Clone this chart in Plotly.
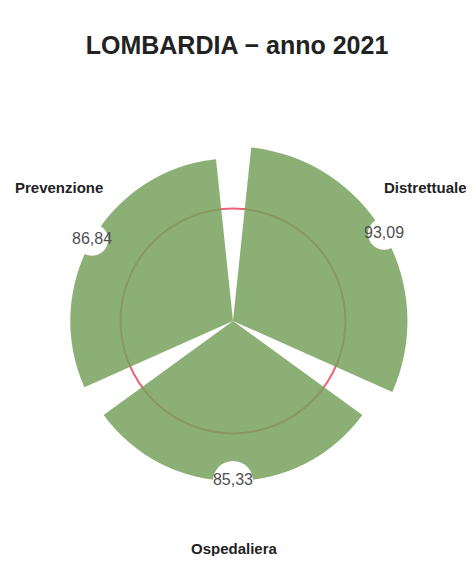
import plotly.graph_objects as go

categories = ["Distrettuale", "Ospedaliera", "Prevenzione"]
values = [93.09, 85.33, 86.84]
angles = [30, 270, 150]
threshold = 60
title_text = "LOMBARDIA \u2212 anno 2021"

OFF = 8  # default page body margin
W, H = 474 - 2 * OFF, 564 - 2 * OFF
cx, cy = 233 - OFF, 321 - OFF
R = 178
rmax = 95

fig = go.Figure()
fig.add_trace(go.Barpolar(
    r=values, theta=angles, width=[108] * 3,
    marker=dict(color="#77A15C", line=dict(width=0)),
    opacity=0.85, hoverinfo="skip", showlegend=False,
))
fig.add_trace(go.Scatterpolar(
    r=values, theta=angles, mode="markers+text",
    marker=dict(color="white", size=[32, 40, 32], opacity=1, line=dict(width=0)),
    texttemplate="%{r:.2f}", textposition="middle center",
    textfont=dict(family="Liberation Sans, Arial", size=16, color="#505050"),
    hoverinfo="skip", showlegend=False, cliponaxis=False,
))

fig.update_layout(
    width=W, height=H, margin=dict(l=0, r=0, t=0, b=0),
    paper_bgcolor="white", separators=",.",
    title=dict(text="<b>" + title_text + "</b>", x=0.5, xanchor="center",
               y=1 - (45 - OFF) / H, yanchor="middle", yref="container",
               font=dict(family="Liberation Sans, Arial", size=25, color="#222")),
    polar=dict(
        domain=dict(x=[(cx - R) / W, (cx + R) / W], y=[(H - cy - R) / H, (H - cy + R) / H]),
        bgcolor="white",
        radialaxis=dict(range=[0, rmax], tickvals=[threshold], showgrid=True,
                        gridcolor="#F0607A", gridwidth=1.5, showticklabels=False,
                        showline=False, ticks=""),
        angularaxis=dict(rotation=0, direction="counterclockwise", showgrid=False,
                         showline=False, showticklabels=False, ticks=""),
    ),
)

label_pos = [(425, 187), (234, 548), (59, 187)]
for name, (px, py) in zip(categories, label_pos):
    fig.add_annotation(text="<b>" + name + "</b>", x=(px - OFF) / W, y=1 - (py - OFF) / H,
                       xref="paper", yref="paper", showarrow=False,
                       xanchor="center", yanchor="middle",
                       font=dict(family="Liberation Sans, Arial", size=15, color="#222"))

fig.write_html("out.html")
